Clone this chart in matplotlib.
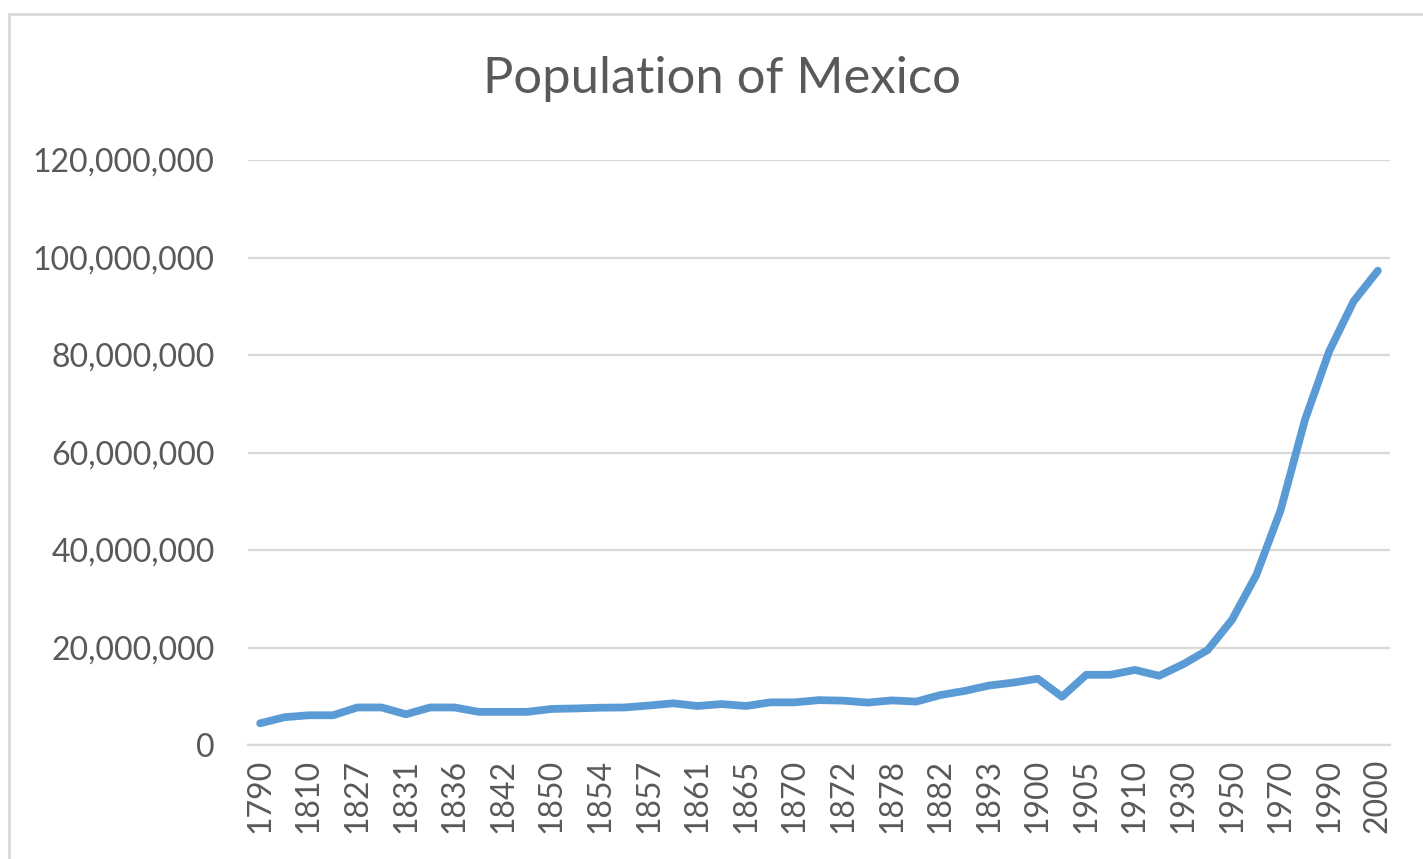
import matplotlib
matplotlib.use('Agg')  # no UI backend

import matplotlib.pyplot as plt
from matplotlib.lines import Line2D
from matplotlib.ticker import FuncFormatter

# categories (every other one is labelled on the axis)
years = ["1790", "1800", "1810", "1820", "1827", "1829", "1831", "1834",
         "1836", "1838", "1842", "1846", "1850", "1852", "1854", "1856",
         "1857", "1858", "1861", "1862", "1865", "1868", "1870", "1871",
         "1872", "1874", "1878", "1880", "1882", "1885", "1893", "1895",
         "1900", "1903", "1905", "1907", "1910", "1921", "1930", "1940",
         "1950", "1960", "1970", "1980", "1990", "1995", "2000"]

# population in millions
population_m = [4.45, 5.7, 6.1, 6.1, 7.7, 7.7, 6.3, 7.7,
                7.7, 6.8, 6.8, 6.8, 7.4, 7.5, 7.65, 7.7,
                8.1, 8.55, 8.0, 8.4, 8.0, 8.75, 8.75, 9.2,
                9.1, 8.7, 9.15, 8.9, 10.25, 11.1, 12.2, 12.8,
                13.6, 9.9, 14.4, 14.4, 15.4, 14.2, 16.6, 19.5,
                25.7, 34.9, 48.2, 66.7, 80.8, 91.0, 97.3]

population = [p * 1e6 for p in population_m]

text_col = '#595959'
grid_col = '#D9D9D9'
line_col = '#5B9BD5'

plt.rcParams['font.family'] = ['Lato', 'DejaVu Sans']

fig = plt.figure(figsize=(14.23, 8.59), dpi=100)
ax = fig.add_axes([248 / 1423, 1 - 745 / 859, 1142 / 1423, 585 / 859])

x = list(range(len(years)))
ax.plot(x, population, color=line_col, linewidth=5.6, solid_capstyle='round',
        solid_joinstyle='round', zorder=3)

ax.set_xlim(-0.5, len(years) - 0.5)
ax.set_ylim(0, 120e6)
ax.set_yticks(range(0, 120000001, 20000000))
ax.yaxis.set_major_formatter(FuncFormatter(lambda v, p: f"{int(v):,}"))
ax.set_xticks(x[::2])
ax.set_xticklabels(years[::2], rotation=90)

ax.grid(axis='y', color=grid_col, linewidth=1.6)
ax.set_axisbelow(True)
for s in ['top', 'right', 'left']:
    ax.spines[s].set_visible(False)
ax.spines['bottom'].set_color(grid_col)
ax.spines['bottom'].set_linewidth(1.6)
ax.tick_params(length=0, colors=text_col, labelsize=23)
ax.tick_params(axis='y', pad=24)
ax.tick_params(axis='x', pad=10)

fig.text(722 / 1423, 1 - 79 / 859, "Population of Mexico", ha='center', va='center',
         fontsize=36.5, color=text_col)

# chart border
fig.add_artist(Line2D([9 / 1423, 9 / 1423], [0, 1 - 14 / 859], color=grid_col, linewidth=2))
fig.add_artist(Line2D([9 / 1423, 1], [1 - 14 / 859, 1 - 14 / 859], color=grid_col, linewidth=2))

plt.savefig("out.png", dpi=100)
